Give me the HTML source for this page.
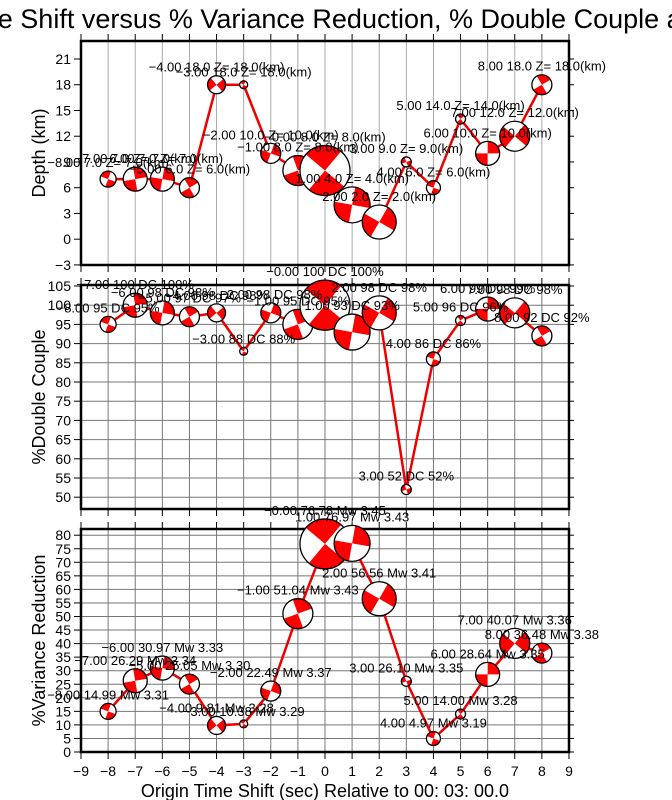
<!DOCTYPE html>
<html><head><meta charset="utf-8"><style>
body{margin:0;background:#fff}
svg{display:block;font-family:"Liberation Sans",sans-serif}
</style></head><body>
<svg id="s" width="672" height="800" xmlns="http://www.w3.org/2000/svg"></svg>
<script>
const S=document.getElementById('s');let h='';
const X=v=>81+(v+9)*27.11;
const L=81,R=569;
h+='<text x="333" y="28" font-size="27" text-anchor="middle">Origin Time Shift versus % Variance Reduction, % Double Couple and Depth</text>';
const panels=[
 {top:41,bot:265,y0:21,py0:59,k:8.58,ticks:[-3,0,3,6,9,12,15,18,21],hgrid:false,lab:'Depth (km)',vals:[7,7,7,6,18,18,10,8,8,4,2,9,6,14,10,12,18],
  txt:(t,v)=>t+' '+v.toFixed(1)+' Z= '+v.toFixed(1)+'(km)'},
 {top:285,bot:509,y0:105,py0:286,k:3.84,ticks:[50,55,60,65,70,75,80,85,90,95,100,105],hgrid:true,lab:'%Double Couple',vals:[95,100,98,97,98,88,98,95,100,93,98,52,86,96,99,98,92],
  txt:(t,v)=>t+' '+v+' DC '+v+'%'},
 {top:529,bot:752,y0:0,py0:752,k:2.71,ticks:[0,5,10,15,20,25,30,35,40,45,50,55,60,65,70,75,80],hgrid:true,lab:'%Variance Reduction',vals:[14.99,26.29,30.97,25.05,9.81,10.38,22.49,51.04,76.78,76.97,56.56,26.10,4.97,14.00,28.64,40.07,36.48],
  mw:[3.31,3.34,3.33,3.30,3.28,3.29,3.37,3.43,3.45,3.43,3.41,3.35,3.19,3.28,3.35,3.36,3.38],
  txt:(t,v,i)=>t+' '+v.toFixed(2)+' Mw '+panels[2].mw[i].toFixed(2)}
];
const rad=[8,12,12,10,9,4,10,15,25,18,17,5,7,5,12,15,10];
const ang=[20,80,100,60,140,30,110,70,40,100,120,160,20,50,90,130,60];
panels.forEach((p,pi)=>{
 const Y=v=>p.py0+(p.y0-v)*p.k;
 for(let v=-8;v<=8;v++){h+=`<line x1="${X(v)}" y1="${p.top}" x2="${X(v)}" y2="${p.bot}" stroke="${pi?'#777':'#aaa'}" stroke-width="1"/>`;}
 p.ticks.forEach(t=>{const y=Y(t);
  if(p.hgrid&&y>p.top+1&&y<p.bot-1)h+=`<line x1="${L}" y1="${y}" x2="${R}" y2="${y}" stroke="#777" stroke-width="1"/>`;
  h+=`<line x1="${L-7}" y1="${y}" x2="${L}" y2="${y}" stroke="#000"/><line x1="${R}" y1="${y}" x2="${R+5}" y2="${y}" stroke="#000"/>`;
  h+=`<text x="${L-10}" y="${y+5}" font-size="14" text-anchor="end">${t<0?'\u2212'+(-t):t}</text>`;});
 for(let v=-9;v<=9;v++){h+=`<line x1="${X(v)}" y1="${p.top-7}" x2="${X(v)}" y2="${p.top}" stroke="#000"/><line x1="${X(v)}" y1="${p.bot}" x2="${X(v)}" y2="${p.bot+7}" stroke="#000"/>`;}
 h+=`<rect x="${L}" y="${p.top}" width="${R-L}" height="${p.bot-p.top}" fill="none" stroke="#000" stroke-width="2.5"/>`;
 h+=`<text transform="translate(45,${(p.top+p.bot)/2}) rotate(-90)" font-size="18" text-anchor="middle">${p.lab}</text>`;
 let pts=p.vals.map((v,i)=>X(i-8)+','+Y(v)).join(' ');
 h+=`<polyline points="${pts}" fill="none" stroke="#e00" stroke-width="2.5"/>`;
 p.vals.forEach((v,i)=>{const cx=X(i-8),cy=Y(v),r=rad[i],a=ang[i]*Math.PI/180;
  const c=`c${pi}_${i}`;
  h+=`<clipPath id="${c}"><circle cx="${cx}" cy="${cy}" r="${r}"/></clipPath>`;
  h+=`<circle cx="${cx}" cy="${cy}" r="${r}" fill="#fff"/>`;
  let w='';
  for(const q of [0,Math.PI]){const a1=a+q,a2=a+q+Math.PI/2;const R2=r*1.5;
   w+=`M${cx},${cy}L${cx+R2*Math.cos(a1)},${cy+R2*Math.sin(a1)}Q${cx+R2*1.2*Math.cos(a1+0.8)},${cy+R2*1.2*Math.sin(a1+0.8)} ${cx+R2*Math.cos(a2)},${cy+R2*Math.sin(a2)}Z`;}
  h+=`<path d="${w}" fill="#f00" clip-path="url(#${c})"/>`;
  h+=`<circle cx="${cx}" cy="${cy}" r="${r}" fill="none" stroke="#000" stroke-width="1.3"/>`;
 });
 p.vals.forEach((v,i)=>{const cx=X(i-8),cy=Y(v);const t=(i-8).toFixed(2).replace('-','\u2212');
  h+=`<text x="${cx}" y="${cy-rad[i]-4}" font-size="13" text-anchor="middle">${p.txt(i==8?'\u22120.00':t,v,i)}</text>`;});
});
for(let v=-9;v<=9;v++)h+=`<text x="${X(v)}" y="776" font-size="14" text-anchor="middle">${v<0?'\u2212'+(-v):v}</text>`;
h+='<text x="325" y="797" font-size="18" text-anchor="middle">Origin Time Shift (sec) Relative to 00: 03: 00.0</text>';
S.innerHTML=h;
</script>
</body></html>
